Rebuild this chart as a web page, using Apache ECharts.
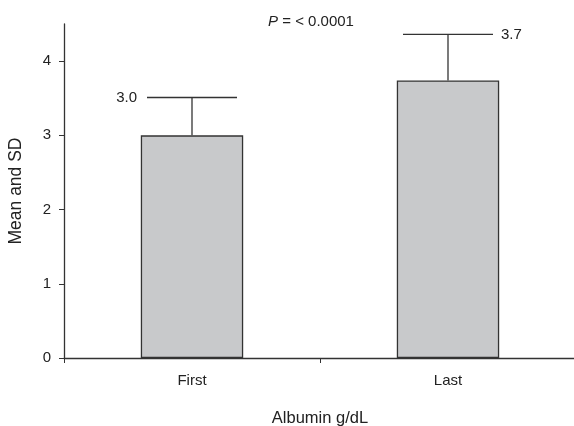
<!DOCTYPE html>
<html><head><meta charset="utf-8">
<script src="https://cdn.jsdelivr.net/npm/echarts@6/dist/echarts.min.js"></script>
<style>html,body{margin:0;padding:0;background:#fff}#c{width:574px;height:426px}</style>
</head><body><div id="c"></div>
<script>
const categories = ['First', 'Last'];
const means = [3.0, 3.74];
const sds = [0.51, 0.62];
const valueLabels = ['3.0', '3.7'];
const yTicks = [0, 1, 2, 3, 4];
const pText = '< 0.0001';

const FONT = 'Liberation Sans, Arial, sans-serif';
const chart = echarts.init(document.getElementById('c'));
chart.setOption({
  animation: false,
  backgroundColor: '#fff',
  grid: { left: 64, top: 24, bottom: 68, right: -2, containLabel: false, outerBoundsMode: 'none' },
  title: {
    text: '{i|P} = ' + pText,
    left: 306, top: 9, textAlign: 'center',
    textStyle: { fontFamily: FONT, fontSize: 15, fontWeight: 'normal', color: '#222',
      rich: { i: { fontStyle: 'italic', fontFamily: FONT, fontSize: 15, color: '#222' } } }
  },
  xAxis: {
    type: 'category', data: categories,
    name: 'Albumin g/dL', nameLocation: 'middle', nameGap: 52,
    nameTextStyle: { fontFamily: FONT, fontSize: 16.5, color: '#222' },
    axisLine: { lineStyle: { color: '#333', width: 1.3 } },
    axisTick: { show: true, length: 5, lineStyle: { color: '#333' } },
    axisLabel: { fontFamily: FONT, fontSize: 15, color: '#222', margin: 15 }
  },
  yAxis: {
    type: 'value', min: 0, max: 4.5, interval: 1,
    name: 'Mean and SD', nameLocation: 'middle', nameGap: 39,
    nameTextStyle: { fontFamily: FONT, fontSize: 17.5, color: '#222' },
    axisLine: { show: true, lineStyle: { color: '#333', width: 1.3 } },
    axisTick: { show: true, length: 5, lineStyle: { color: '#333' } },
    axisLabel: { fontFamily: FONT, fontSize: 15, color: '#222', margin: 13, showMaxLabel: false,
      formatter: v => yTicks.includes(v) ? String(v) : '' },
    splitLine: { show: false }
  },
  series: [
    {
      type: 'bar', data: means, barWidth: '40%',
      itemStyle: { color: '#c8c9cb', borderColor: '#333', borderWidth: 1.3 }
    },
    {
      type: 'custom',
      data: means.map((m, i) => [i, m, m + sds[i]]),
      z: 1,
      renderItem: function (params, api) {
        const i = api.value(0);
        const base = api.coord([i, api.value(1)]);
        const top = api.coord([i, api.value(2)]);
        const half = 45;
        const left = i === 0;
        return {
          type: 'group',
          children: [
            { type: 'line', shape: { x1: base[0], y1: base[1], x2: top[0], y2: top[1] }, style: { stroke: '#333', lineWidth: 1.3 } },
            { type: 'line', shape: { x1: top[0] - half, y1: top[1], x2: top[0] + half, y2: top[1] }, style: { stroke: '#333', lineWidth: 1.3 } },
            { type: 'text', x: left ? top[0] - half - 10 : top[0] + half + 8, y: top[1],
              style: { text: valueLabels[i], fill: '#222', font: '15px ' + FONT,
                textAlign: left ? 'right' : 'left', textVerticalAlign: 'middle' } }
          ]
        };
      }
    }
  ]
});
</script></body></html>
